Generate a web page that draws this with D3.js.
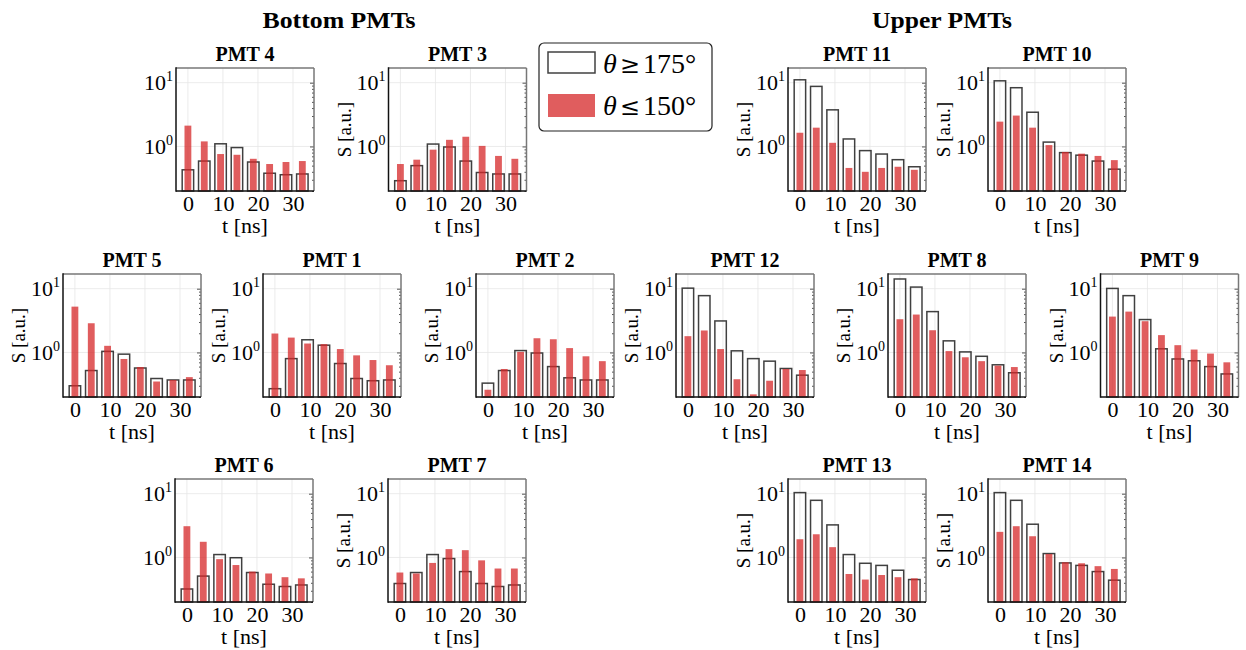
<!DOCTYPE html>
<html>
<head>
<meta charset="utf-8">
<script src="https://cdn.jsdelivr.net/npm/d3@7"></script>
<style>
 body{margin:0;background:#fff;}
 svg{display:block;}
 text{font-family:"Liberation Serif","DejaVu Serif",serif;fill:#000;}
</style>
</head>
<body>
<div id="chart"></div>
<script>
// bin centres [ns] and axis ticks
const times = [0, 4.67, 9.33, 14, 18.67, 23.33, 28, 32.67];
const xTicks = [0, 10, 20, 30];
const yTicks = [1, 10];

// S [a.u.] per bin : back = theta >= 175 deg (outline), fwd = theta <= 150 deg (red)
const back4  = [0.43, 0.59, 1.10, 0.96, 0.57, 0.38, 0.36, 0.37];
const fwd4   = [2.12, 1.20, 0.76, 0.74, 0.64, 0.53, 0.57, 0.59];
const back3  = [0.29, 0.50, 1.09, 0.98, 0.59, 0.39, 0.37, 0.37];
const fwd3   = [0.53, 0.62, 0.89, 1.27, 1.42, 1.02, 0.71, 0.64];
const back11 = [11.1, 8.75, 3.75, 1.31, 0.86, 0.76, 0.62, 0.48];
const fwd11  = [1.64, 1.97, 1.14, 0.46, 0.40, 0.46, 0.48, 0.43];
const back10 = [10.7, 8.34, 3.44, 1.17, 0.80, 0.73, 0.59, 0.44];
const fwd10  = [2.45, 3.05, 1.97, 1.05, 0.82, 0.77, 0.71, 0.61];
const back5  = [0.30, 0.52, 1.04, 0.94, 0.57, 0.39, 0.37, 0.37];
const fwd5   = [5.23, 2.87, 1.27, 0.79, 0.59, 0.35, 0.37, 0.41];
const back1  = [0.27, 0.80, 1.58, 1.30, 0.67, 0.39, 0.36, 0.37];
const fwd1   = [1.98, 1.71, 1.38, 1.35, 1.13, 0.90, 0.76, 0.63];
const back2  = [0.33, 0.52, 1.07, 0.98, 0.60, 0.40, 0.37, 0.37];
const fwd2   = [0.26, 0.55, 1.02, 1.67, 1.61, 1.17, 0.87, 0.73];
const back12 = [10.2, 7.78, 3.12, 1.06, 0.80, 0.73, 0.56, 0.44];
const fwd12  = [1.80, 2.21, 1.13, 0.38, 0.22, 0.36, 0.55, 0.53];
const back8  = [14.2, 10.6, 4.37, 1.52, 1.02, 0.87, 0.64, 0.48];
const fwd8   = [3.32, 3.93, 2.23, 1.05, 0.84, 0.73, 0.62, 0.59];
const back9  = [10.1, 7.78, 3.28, 1.14, 0.79, 0.74, 0.60, 0.46];
const fwd9   = [3.65, 4.37, 3.09, 1.87, 1.30, 1.11, 0.96, 0.70];
const back6  = [0.32, 0.51, 1.11, 0.99, 0.58, 0.38, 0.35, 0.37];
const fwd6   = [3.09, 1.76, 0.94, 0.76, 0.60, 0.56, 0.49, 0.47];
const back7  = [0.39, 0.58, 1.11, 0.96, 0.60, 0.39, 0.35, 0.37];
const fwd7   = [0.58, 0.56, 0.82, 1.35, 1.30, 0.90, 0.67, 0.67];
const back13 = [10.4, 7.87, 3.24, 1.11, 0.81, 0.75, 0.63, 0.45];
const fwd13  = [1.93, 2.31, 1.45, 0.55, 0.45, 0.53, 0.49, 0.47];
const back14 = [10.4, 7.87, 3.32, 1.15, 0.82, 0.75, 0.60, 0.44];
const fwd14  = [2.52, 3.09, 2.15, 1.13, 0.84, 0.81, 0.73, 0.66];

// panel layout (plot area top-left corner) -- same arrangement as the detector drawing
const panels = [
  {name:'PMT 4',  back:back4,  fwd:fwd4,  x:176,   y:68,  ylab:false},
  {name:'PMT 3',  back:back3,  fwd:fwd3,  x:388.5, y:68,  ylab:true},
  {name:'PMT 11', back:back11, fwd:fwd11, x:788,   y:68,  ylab:true},
  {name:'PMT 10', back:back10, fwd:fwd10, x:988,   y:68,  ylab:true},
  {name:'PMT 5',  back:back5,  fwd:fwd5,  x:63,    y:274, ylab:true},
  {name:'PMT 1',  back:back1,  fwd:fwd1,  x:263,   y:274, ylab:true},
  {name:'PMT 2',  back:back2,  fwd:fwd2,  x:476,   y:274, ylab:true},
  {name:'PMT 12', back:back12, fwd:fwd12, x:676,   y:274, ylab:true},
  {name:'PMT 8',  back:back8,  fwd:fwd8,  x:888,   y:274, ylab:true},
  {name:'PMT 9',  back:back9,  fwd:fwd9,  x:1100.5,y:274, ylab:true},
  {name:'PMT 6',  back:back6,  fwd:fwd6,  x:175,   y:479, ylab:false},
  {name:'PMT 7',  back:back7,  fwd:fwd7,  x:388,   y:479, ylab:true},
  {name:'PMT 13', back:back13, fwd:fwd13, x:788,   y:479, ylab:true},
  {name:'PMT 14', back:back14, fwd:fwd14, x:988,   y:479, ylab:true}
];

const width = 1246, height = 650;
const plotW = 138, plotH = 123;
const red = '#d62728';
const serif = '"Liberation Serif","DejaVu Serif",serif';

const svg = d3.select('#chart').append('svg')
    .attr('width', width)
    .attr('height', height);

// group headers
svg.append('text').text('Bottom PMTs')
    .attr('x', 339).attr('y', 28)
    .attr('text-anchor','middle')
    .style('font-size','24px').style('font-weight','bold')
    .attr('textLength', 153).attr('lengthAdjust','spacingAndGlyphs');
svg.append('text').text('Upper PMTs')
    .attr('x', 942).attr('y', 28)
    .attr('text-anchor','middle')
    .style('font-size','24px').style('font-weight','bold')
    .attr('textLength', 140).attr('lengthAdjust','spacingAndGlyphs');

const xScale = d3.scaleLinear().domain([-3.4, 36]).range([0, plotW]);
const yScale = d3.scaleLog().domain([0.2, 17]).range([plotH, 0]);

// bar widths in ns
const wBack = 3.27, wFwd = 1.95;

function drawPanel(p){
  const g = svg.append('g')
      .attr('transform', `translate(${p.x},${p.y})`);

  // grid lines
  g.append('g').selectAll('line')
      .data(xTicks)
      .join('line')
      .attr('x1', d=>xScale(d)).attr('x2', d=>xScale(d))
      .attr('y1', 0).attr('y2', plotH)
      .attr('stroke', '#e6e6e6').attr('stroke-width', 0.8);
  g.append('g').selectAll('line')
      .data(yTicks)
      .join('line')
      .attr('x1', 0).attr('x2', plotW)
      .attr('y1', d=>yScale(d)).attr('y2', d=>yScale(d))
      .attr('stroke', '#e6e6e6').attr('stroke-width', 0.8);

  // theta >= 175 : outline bars
  g.append('g').selectAll('rect')
      .data(p.back)
      .join('rect')
      .attr('x', (d,i)=>xScale(times[i]-wBack/2))
      .attr('width', xScale(wBack)-xScale(0))
      .attr('y', d=>yScale(d))
      .attr('height', d=>plotH-yScale(d))
      .attr('fill','none')
      .attr('stroke','#000')
      .attr('stroke-opacity',0.75)
      .attr('stroke-width',1.5);

  // theta <= 150 : red bars
  g.append('g').selectAll('rect')
      .data(p.fwd)
      .join('rect')
      .attr('x', (d,i)=>xScale(times[i]-wFwd/2))
      .attr('width', xScale(wFwd)-xScale(0))
      .attr('y', d=>yScale(d))
      .attr('height', d=>plotH-yScale(d))
      .attr('fill', red)
      .attr('fill-opacity', 0.75);

  // small inward ticks on the right spine
  const right = g.append('g')
      .attr('transform', `translate(${plotW},0)`)
      .call(d3.axisRight(yScale).tickSize(-2).tickFormat(''));
  right.selectAll('.tick line')
      .attr('x2', d=>yTicks.includes(d) ? -4 : -2)
      .attr('stroke','#555');
  right.select('.domain').remove();

  // frame: top/right grey, left/bottom black
  g.append('line').attr('x1',0).attr('x2',plotW).attr('y1',0).attr('y2',0)
      .attr('stroke','#777').attr('stroke-width',1.5);
  g.append('line').attr('x1',plotW).attr('x2',plotW).attr('y1',0).attr('y2',plotH)
      .attr('stroke','#777').attr('stroke-width',1.5);
  g.append('line').attr('x1',0).attr('x2',0).attr('y1',-0.75).attr('y2',plotH+0.75)
      .attr('stroke','#111').attr('stroke-width',1.5);
  g.append('line').attr('x1',0).attr('x2',plotW).attr('y1',plotH).attr('y2',plotH)
      .attr('stroke','#111').attr('stroke-width',1.5);

  // x axis labels
  const xAx = g.append('g')
      .attr('transform', `translate(0,${plotH})`)
      .call(d3.axisBottom(xScale).tickValues(xTicks).tickSize(0).tickPadding(5));
  xAx.attr('font-family', serif);
  xAx.select('.domain').remove();
  xAx.selectAll('text')
      .style('font-family', serif)
      .style('font-size','22px')
      .attr('dy','0.71em')
      .attr('y', 4);

  // y axis labels (10^0, 10^1)
  const yAx = g.append('g')
      .call(d3.axisLeft(yScale).tickValues(yTicks).tickSize(0).tickPadding(3));
  yAx.attr('font-family', serif);
  yAx.select('.domain').remove();
  yAx.selectAll('text').each(function(d){
    const t = d3.select(this).text('').attr('dy', null).attr('y', 7)
        .attr('x', -3)
        .style('font-family', serif)
        .style('font-size','22px');
    t.append('tspan').text('10');
    t.append('tspan').text(Math.round(Math.log10(d)))
        .attr('dy', -9).style('font-size','14px');
  });

  // title and axis titles
  g.append('text').text(p.name)
      .attr('x', plotW/2).attr('y', -7)
      .attr('text-anchor','middle')
      .style('font-size','20px').style('font-weight','bold');

  g.append('text').text('t [ns]')
      .attr('x', plotW/2).attr('y', plotH+42)
      .attr('text-anchor','middle')
      .style('font-size','22px');

  if(p.ylab){
    g.append('text').text('S [a.u.]')
        .attr('transform', `translate(-38,${plotH/2}) rotate(-90)`)
        .attr('text-anchor','middle')
        .style('font-size','19px');
  }
}

panels.forEach(drawPanel);

// legend
const legend = svg.append('g').attr('transform','translate(539,43)');
legend.append('rect')
    .attr('width',173).attr('height',88).attr('rx',5)
    .attr('fill','#fff').attr('stroke','#222').attr('stroke-width',1.2);
legend.append('rect')
    .attr('x',9).attr('y',9).attr('width',47).attr('height',21)
    .attr('fill','none').attr('stroke','#000').attr('stroke-opacity',0.75).attr('stroke-width',1.5);
legend.append('rect')
    .attr('x',9).attr('y',51).attr('width',47).attr('height',23)
    .attr('fill',red).attr('fill-opacity',0.75);

const legendLabels = [['\u2265','175'],['\u2264','150']];
legend.selectAll('text.leg')
    .data(legendLabels)
    .join('text')
    .attr('class','leg')
    .attr('x',64)
    .attr('y',(d,i)=>30+i*42)
    .style('font-family', serif)
    .style('font-size','28px')
    .each(function(d){
      const t = d3.select(this);
      t.append('tspan').text('\u03b8')
          .style('font-family', serif).style('font-style','italic');
      t.append('tspan').text(d[0]).attr('dx',3)
          .style('font-family', '"DejaVu Serif",serif').style('font-size','24px');
      t.append('tspan').text(d[1]).attr('dx',3)
          .style('font-family', serif).style('font-size','28px');
      t.append('tspan').text('\u00b0')
          .style('font-family', serif);
    });
</script>
</body>
</html>
